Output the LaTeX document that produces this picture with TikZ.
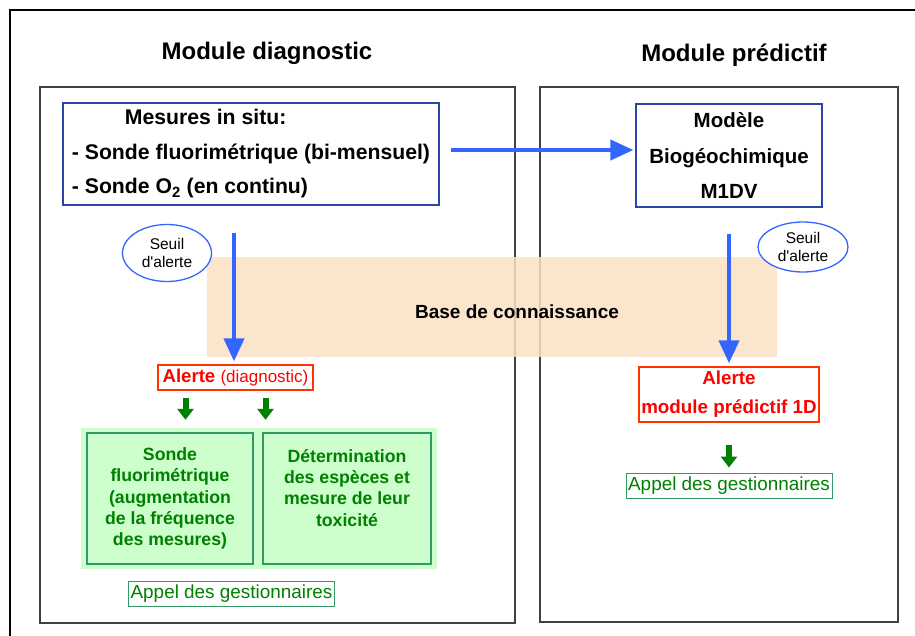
\documentclass[tikz,border=0pt]{standalone}
\usepackage{fontspec}
\setmainfont{Liberation Sans}
\usetikzlibrary{arrows.meta,shapes.geometric}

\definecolor{bleufleche}{HTML}{3366FF}
\definecolor{bleucadre}{HTML}{2A45A8}
\definecolor{rougecadre}{HTML}{FF3300}
\definecolor{vertcadre}{HTML}{339966}
\definecolor{verttexte}{HTML}{008000}
\definecolor{vertfond}{HTML}{CCFFCC}
\definecolor{orangefond}{HTML}{FCE0C4}

\begin{document}
\begin{tikzpicture}[x=1pt,y=-1pt,
    titre/.style={font=\bfseries\fontsize{24}{28}\selectfont},
    boitebleue/.style={draw=bleucadre, line width=1.2pt, inner sep=0pt, fill=white},
    boiterouge/.style={draw=rougecadre, line width=1.3pt, inner sep=0pt, text=red},
    boiteverte/.style={draw=vertcadre, line width=2pt, inner sep=0pt, text=verttexte,
        align=center, font=\bfseries\fontsize{17.7}{21.3}\selectfont},
    appel/.style={draw=vertcadre, line width=1pt, inner sep=0pt, text=verttexte,
        minimum width=206, minimum height=25, font=\fontsize{18.9}{22}\selectfont},
    seuil/.style={ellipse, draw=bleufleche, line width=1.3pt, fill=white, inner sep=0pt,
        align=center, font=\fontsize{15.5}{18}\selectfont},
    fleche/.style={draw=bleufleche, line width=4pt, -{Triangle[width=20pt,length=23pt]}},
    flecheverte/.style={draw=verttexte, line width=6pt, -{Triangle[width=16pt,length=11pt]}}]

    \useasboundingbox (0,0) rectangle (915,636);

    % cadre general et les deux modules
    \draw[line width=2.5pt] (925,10) -- (10,10) -- (10,646);
    \draw[line width=1.5pt, black!75] (40,87) rectangle (515,623);
    \draw[line width=1.5pt, black!75] (540,87) rectangle (898,622);

    % base de connaissance
    \node[fill=orangefond, fill opacity=0.85, minimum width=570, minimum height=100,
        inner sep=0pt] (base) at (492,307) {};
    \node[font=\bfseries\fontsize{19}{22}\selectfont] (basetexte) at (517,312) {Base de connaissance};

    % titres
    \node[titre] (titrediag) at (267,53) {Module diagnostic};
    \node[titre] (titrepred) at (734,55) {Module prédictif};

    % module diagnostic
    \node[boitebleue, minimum width=376, minimum height=102, align=left,
        font=\bfseries\fontsize{21.2}{34.5}\selectfont] (mesures) at (251,154)
        {\hspace*{53pt}Mesures in situ:\\- Sonde fluorimétrique (bi-mensuel)\\- Sonde O\textsubscript{2} (en continu)};
    \node[seuil, minimum width=89, minimum height=57] (seuildiag) at (167,253) {Seuil\\d\textquotesingle alerte};
    \node[boiterouge, minimum width=155, minimum height=25] (alerte1) at (235.5,377.5)
        {\fontsize{18.6}{21}\selectfont\bfseries Alerte \mdseries\fontsize{17}{21}\selectfont(diagnostic)};
    \node[fill=vertfond, minimum width=356, minimum height=141, inner sep=0pt] (fond) at (259,498.5) {};
    \node[boiteverte, minimum width=166, minimum height=131] (sonde) at (170,498.5)
        {Sonde\\fluorimétrique\\(augmentation\\de la fréquence\\des mesures)};
    \node[boiteverte, minimum width=168, minimum height=131] (especes) at (347,498.5)
        {Détermination\\des espèces et\\mesure de leur\\toxicité\\~};
    \node[appel] (appel1) at (231.5,594) {Appel des gestionnaires};

    % module predictif
    \node[boitebleue, minimum width=186, minimum height=103, align=center,
        font=\bfseries\fontsize{20.5}{35.5}\selectfont] (modele) at (729,155.5)
        {Modèle\\Biogéochimique\\M1DV};
    \node[seuil, minimum width=90, minimum height=50] (seuilpred) at (803,247) {Seuil\\d\textquotesingle alerte};
    \node[boiterouge, minimum width=180, minimum height=55, align=center,
        font=\bfseries\fontsize{18.8}{29}\selectfont] (alerte2) at (729,394.5)
        {Alerte\\module prédictif 1D};
    \node[appel] (appel2) at (729,485.5) {Appel des gestionnaires};

    % fleches
    \draw[fleche] ([xshift=11pt,yshift=4pt]mesures.east) coordinate (depart) -- ([xshift=-2pt]depart -| modele.west);
    \draw[fleche] ([xshift=-1.5pt,yshift=-27pt]mesures.south -| alerte1.north) -- ([xshift=-1.5pt,yshift=3pt]alerte1.north);
    \draw[fleche] ([yshift=-26pt]modele.south) -- ([yshift=3pt]alerte2.north);
    \draw[flecheverte] ([xshift=-50pt,yshift=-7pt]alerte1.south) -- ([xshift=-50pt,yshift=8pt]alerte1.south |- fond.north);
    \draw[flecheverte] ([xshift=30pt,yshift=-7pt]alerte1.south) -- ([xshift=30pt,yshift=8pt]alerte1.south |- fond.north);
    \draw[flecheverte] ([yshift=-22pt]alerte2.south) -- ([yshift=5pt]appel2.north);
\end{tikzpicture}
\end{document}
